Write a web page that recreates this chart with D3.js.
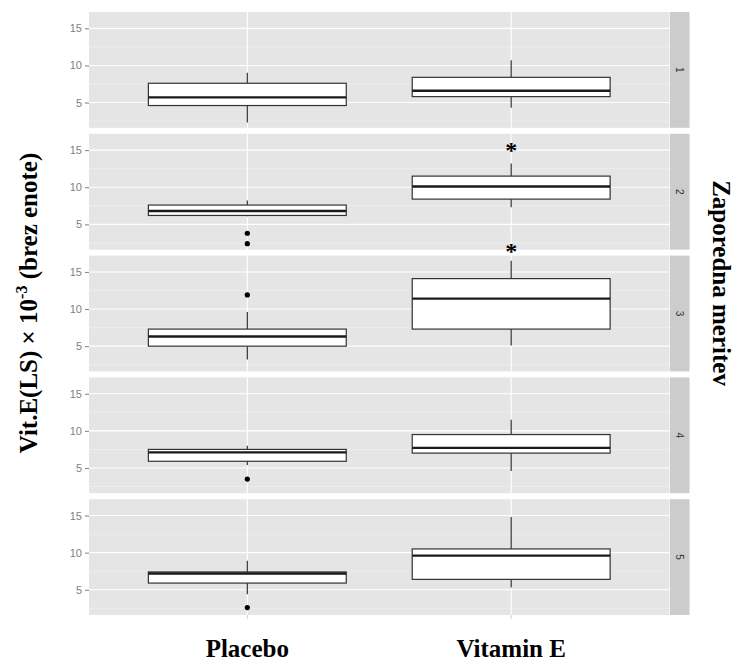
<!DOCTYPE html>
<html>
<head>
<meta charset="utf-8">
<script src="https://cdn.jsdelivr.net/npm/d3@7"></script>
<style>
  html, body { margin: 0; padding: 0; background: #fff; }
  svg { display: block; }
</style>
</head>
<body>
<div id="chart"></div>
<script>
const groups = ["Placebo", "Vitamin E"];
const measurements = ["1", "2", "3", "4", "5"];

// [lower whisker, q1, median, q3, upper whisker] per measurement
const placeboStats = [
  [2.3, 4.6, 5.7, 7.6, 9.0],
  [6.1, 6.2, 6.8, 7.6, 8.2],
  [3.2, 5.0, 6.3, 7.3, 9.6],
  [5.4, 5.9, 7.1, 7.5, 8.0],
  [4.4, 5.9, 7.2, 7.4, 8.9],
];
const vitaminStats = [
  [4.3, 5.8, 6.6, 8.4, 10.7],
  [7.3, 8.4, 10.1, 11.5, 13.2],
  [5.1, 7.3, 11.4, 14.1, 16.5],
  [4.6, 7.0, 7.7, 9.5, 11.5],
  [5.3, 6.4, 9.6, 10.5, 14.8],
];
const placeboOutliers = [[], [3.8, 2.4], [11.9], [3.5], [2.6]];
const vitaminOutliers = [[], [], [], [], []];

// significance marks: measurement index, group, value
const starMeasurement = [1, 2];
const starGroup = ["Vitamin E", "Vitamin E"];
const starValue = [15.4, 18.2];

const yTicks = [5, 10, 15];
const yMinor = [2.5, 7.5, 12.5];
const yDomain = [1.6, 17.2];

const width = 738;
const height = 662;
const plotLeft = 89;
const plotRight = 669.5;
const plotTop = 12;
const plotBottom = 615;
const gap = 6;
const stripW = 19.5;
const panelH = (plotBottom - plotTop - gap * (measurements.length - 1)) / measurements.length;

const svg = d3.select("#chart").append("svg").attr("width", width).attr("height", height);

// discrete positions 1..n with 0.6 expansion either side, like ggplot
const x = d3.scaleLinear().domain([0.4, groups.length + 0.6]).range([plotLeft, plotRight]);
const xPos = (g) => x(groups.indexOf(g) + 1);
const boxW = x(1.375) - x(0.625);

const y = d3.scaleLinear().domain(yDomain).range([panelH, 0]);

const statsByGroup = { Placebo: placeboStats, "Vitamin E": vitaminStats };
const outliersByGroup = { Placebo: placeboOutliers, "Vitamin E": vitaminOutliers };

measurements.forEach((m, i) => {
  const top = plotTop + i * (panelH + gap);
  const panel = svg.append("g").attr("transform", `translate(0,${top})`);

  panel
    .append("rect")
    .attr("x", plotLeft)
    .attr("y", 0)
    .attr("width", plotRight - plotLeft)
    .attr("height", panelH)
    .attr("fill", "#e5e5e5");

  panel
    .selectAll("line.minor")
    .data(yMinor)
    .join("line")
    .attr("class", "minor")
    .attr("x1", plotLeft)
    .attr("x2", plotRight)
    .attr("y1", (d) => y(d))
    .attr("y2", (d) => y(d))
    .attr("stroke", "#f2f2f2")
    .attr("stroke-width", 0.6);

  panel
    .selectAll("line.major")
    .data(yTicks)
    .join("line")
    .attr("class", "major")
    .attr("x1", plotLeft)
    .attr("x2", plotRight)
    .attr("y1", (d) => y(d))
    .attr("y2", (d) => y(d))
    .attr("stroke", "#fff")
    .attr("stroke-width", 1.1);

  panel
    .selectAll("line.vmajor")
    .data(groups)
    .join("line")
    .attr("class", "vmajor")
    .attr("x1", (d) => xPos(d))
    .attr("x2", (d) => xPos(d))
    .attr("y1", 0)
    .attr("y2", panelH)
    .attr("stroke", "#fff")
    .attr("stroke-width", 1.1);

  // y axis
  const yAxis = panel
    .append("g")
    .attr("transform", `translate(${plotLeft},0)`)
    .call(d3.axisLeft(y).tickValues(yTicks).tickSize(4).tickPadding(3));
  yAxis.select(".domain").remove();
  yAxis.selectAll("line").attr("stroke", "#7f7f7f");
  yAxis.selectAll("text").attr("fill", "#7f7f7f").attr("font-size", 11).attr("font-family", "Liberation Sans, Arial, sans-serif");

  // strip
  panel
    .append("rect")
    .attr("x", plotRight + 0.5)
    .attr("y", 0)
    .attr("width", stripW)
    .attr("height", panelH)
    .attr("fill", "#cccccc");
  panel
    .append("text")
    .attr("transform", `translate(${plotRight + 0.5 + stripW / 2},${panelH / 2}) rotate(90)`)
    .attr("text-anchor", "middle")
    .attr("dy", "0.35em")
    .attr("font-size", 10)
    .attr("font-family", "Liberation Sans, Arial, sans-serif")
    .attr("fill", "#333")
    .text(m);

  // boxes
  groups.forEach((g) => {
    const [lo, q1, med, q3, hi] = statsByGroup[g][i];
    const cx = xPos(g);
    const gb = panel.append("g");
    gb.append("line")
      .attr("x1", cx).attr("x2", cx)
      .attr("y1", y(q3)).attr("y2", y(hi))
      .attr("stroke", "#333").attr("stroke-width", 1.2);
    gb.append("line")
      .attr("x1", cx).attr("x2", cx)
      .attr("y1", y(q1)).attr("y2", y(lo))
      .attr("stroke", "#333").attr("stroke-width", 1.2);
    gb.append("rect")
      .attr("x", cx - boxW / 2)
      .attr("y", y(q3))
      .attr("width", boxW)
      .attr("height", y(q1) - y(q3))
      .attr("fill", "#fff")
      .attr("stroke", "#333")
      .attr("stroke-width", 1.2);
    gb.append("line")
      .attr("x1", cx - boxW / 2).attr("x2", cx + boxW / 2)
      .attr("y1", y(med)).attr("y2", y(med))
      .attr("stroke", "#1a1a1a").attr("stroke-width", 2.4);
    gb.selectAll("circle")
      .data(outliersByGroup[g][i])
      .join("circle")
      .attr("cx", cx)
      .attr("cy", (d) => y(d))
      .attr("r", 2.6)
      .attr("fill", "#000");
  });

  // significance stars
  starMeasurement.forEach((si, k) => {
    if (si !== i) return;
    panel
      .append("text")
      .attr("x", xPos(starGroup[k]))
      .attr("y", y(starValue[k]) + 11)
      .attr("text-anchor", "middle")
      .attr("font-family", "Liberation Serif, Times New Roman, serif")
      .attr("font-weight", "bold")
      .attr("font-size", 24)
      .attr("fill", "#000")
      .text("*");
  });
});

// x axis ticks + labels under the last panel
svg
  .selectAll("line.xtick")
  .data(groups)
  .join("line")
  .attr("class", "xtick")
  .attr("x1", (d) => xPos(d))
  .attr("x2", (d) => xPos(d))
  .attr("y1", plotBottom)
  .attr("y2", plotBottom + 4)
  .attr("stroke", "#d0d0d0");

svg
  .selectAll("text.xlab")
  .data(groups)
  .join("text")
  .attr("class", "xlab")
  .attr("x", (d) => xPos(d))
  .attr("y", 657)
  .attr("text-anchor", "middle")
  .attr("font-family", "Liberation Serif, Times New Roman, serif")
  .attr("font-weight", "bold")
  .attr("font-size", 25)
  .attr("fill", "#000")
  .text((d) => d);

// y title
const yTitle = svg
  .append("text")
  .attr("transform", `translate(37,303) rotate(-90)`)
  .attr("text-anchor", "middle")
  .attr("font-family", "Liberation Serif, Times New Roman, serif")
  .attr("font-weight", "bold")
  .attr("font-size", 25)
  .attr("fill", "#000");
yTitle.append("tspan").text("Vit.E(LS) × 10");
yTitle.append("tspan").attr("dy", -10).attr("font-size", 16).text("-3");
yTitle.append("tspan").attr("dy", 10).text(" (brez enote)");

// right title
svg
  .append("text")
  .attr("transform", `translate(713,283) rotate(90)`)
  .attr("text-anchor", "middle")
  .attr("font-family", "Liberation Serif, Times New Roman, serif")
  .attr("font-weight", "bold")
  .attr("font-size", 25)
  .attr("fill", "#000")
  .text("Zaporedna meritev");
</script>
</body>
</html>
